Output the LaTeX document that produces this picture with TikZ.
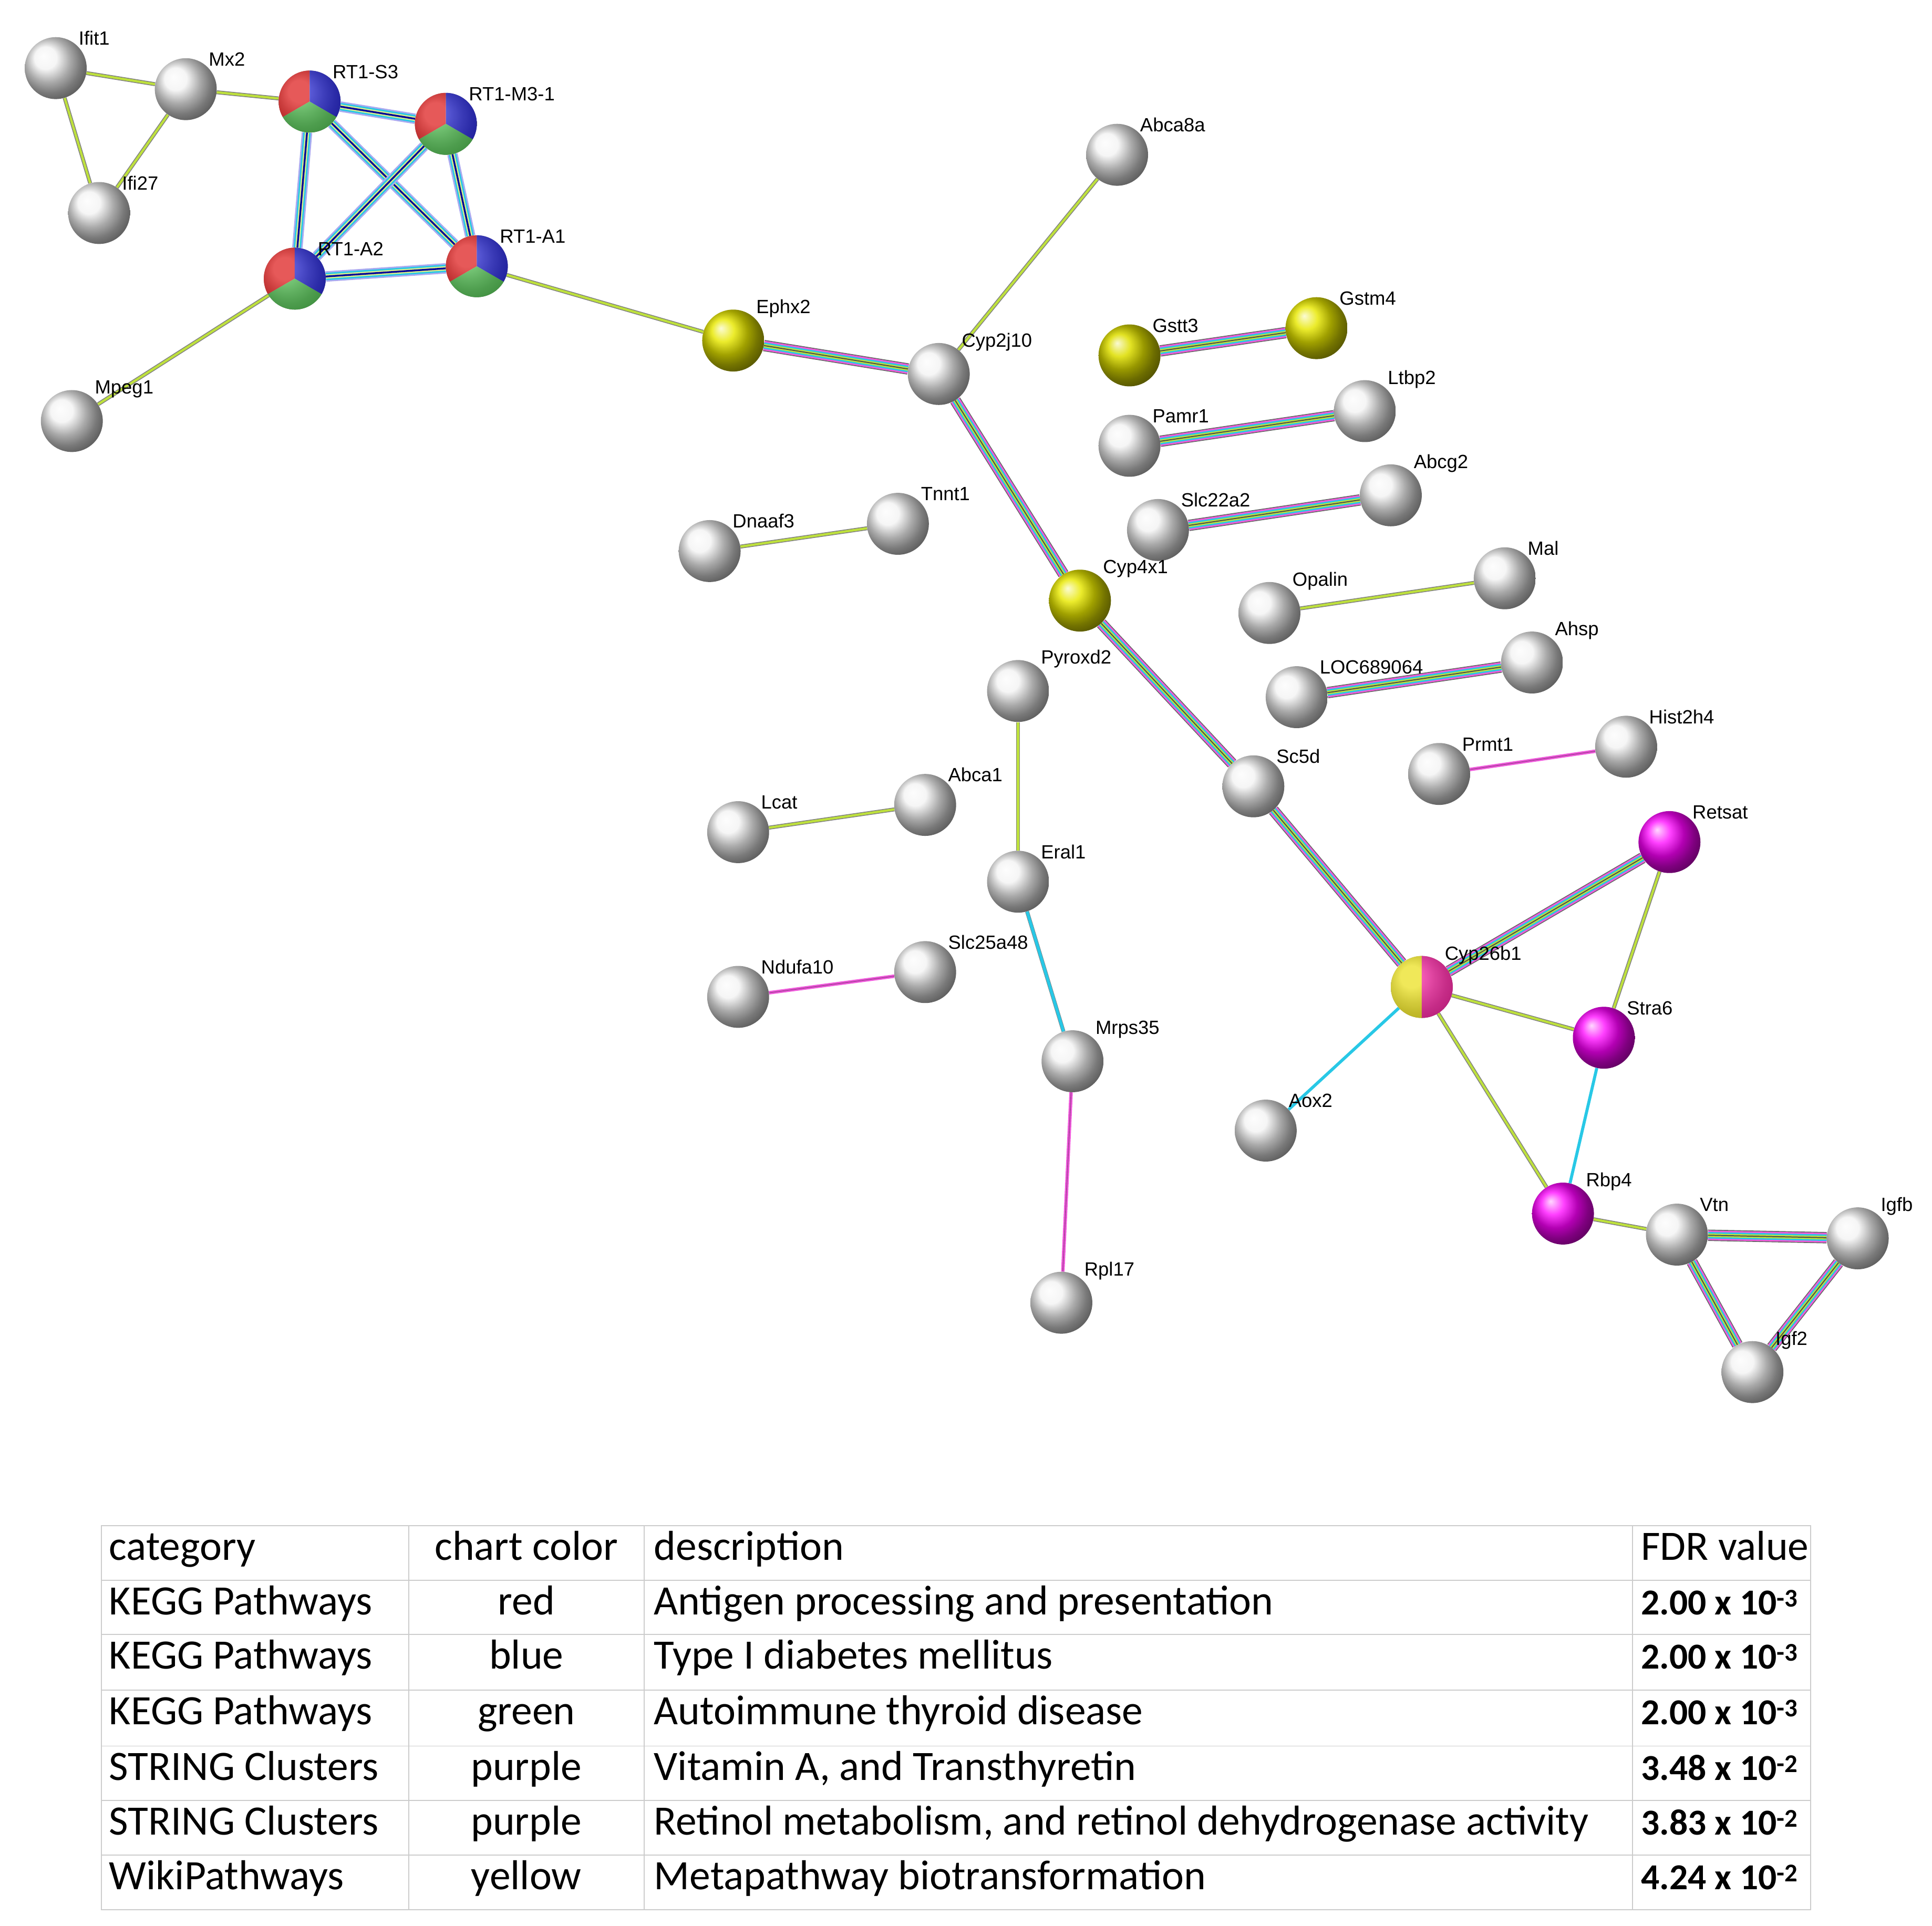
\documentclass[tikz,border=0pt]{standalone}
\usepackage{fontspec}
\setmainfont{Liberation Sans}
\newfontfamily\calfont{Carlito}
\usetikzlibrary{backgrounds}
\definecolor{ygc}{RGB}{190,225,60}
\definecolor{pk}{RGB}{240,90,220}
\definecolor{cy}{RGB}{40,200,230}
\definecolor{lav}{RGB}{170,170,240}
\tikzset{
 ball/.style={circle,minimum size=2.5cm,inner sep=0pt,shading=ball,ball color=#1,
   label={[anchor=south west,inner sep=1pt,font=\fontsize{22}{24}\selectfont]45:\lbl}},
 tcell/.style={font=\calfont\fontsize{48}{52}\selectfont,anchor=west,inner sep=0pt,text height=0.72em,text depth=0.22em},
}
\newcommand\lbl{}
\newcommand\nd[5]{\renewcommand\lbl{#4}\node[ball=#5] (#1) at (#2,-#3) {};}
\newcommand\eY[2]{\draw[line width=4.5pt,black!50] (#1)--(#2);\draw[line width=2.6pt,ygc] (#1)--(#2);}
\newcommand\eC[3]{\draw[line width=3.5pt,#3] (#1)--(#2);}
\newcommand\eP[2]{\draw[line width=4pt,pk] (#1)--(#2);\draw[line width=1pt,pk!70!black] (#1)--(#2);}
\newcommand\eM[2]{\draw[line width=13pt,black!60](#1)--(#2);\draw[line width=11pt,pk](#1)--(#2);\draw[line width=7.5pt,cy](#1)--(#2);\draw[line width=4pt,ygc](#1)--(#2);\draw[line width=1.2pt,black!70](#1)--(#2);}
\newcommand\eB[2]{\draw[line width=12pt,lav](#1)--(#2);\draw[line width=8.5pt,cy](#1)--(#2);\draw[line width=5pt,ygc!60](#1)--(#2);\draw[line width=2pt,blue!60!black](#1)--(#2);}
\newcommand\pie[1]{%
 \fill[red!85!black] (#1.center) -- ++(90:1.25cm) arc[start angle=90,end angle=210,radius=1.25cm] -- cycle;
 \fill[blue!75!black] (#1.center) -- ++(-30:1.25cm) arc[start angle=-30,end angle=90,radius=1.25cm] -- cycle;
 \fill[green!60!black!80] (#1.center) -- ++(210:1.25cm) arc[start angle=210,end angle=330,radius=1.25cm] -- cycle;
 \shade[ball color=white,opacity=0.35] (#1.center) circle[radius=1.25cm];}
\begin{document}
\begin{tikzpicture}[x=0.05cm,y=0.05cm]
\useasboundingbox (0,0) rectangle (1560,-1555);
\def\g{white!90!gray}
\nd{ifit1}{45}{55}{Ifit1}{\g}
\nd{mx2}{150}{72}{Mx2}{\g}
\nd{ifi27}{80}{172}{Ifi27}{\g}
\nd{s3}{250}{82}{RT1-S3}{\g}
\nd{m31}{360}{100}{RT1-M3-1}{\g}
\nd{a2}{238}{225}{RT1-A2}{\g}
\nd{a1}{385}{215}{RT1-A1}{\g}
\nd{mpeg1}{58}{340}{Mpeg1}{\g}
\nd{ephx2}{592}{275}{Ephx2}{yellow!80!olive}
\nd{cyp2j10}{758}{302}{Cyp2j10}{\g}
\nd{abca8a}{902}{125}{Abca8a}{\g}
\nd{gstt3}{912}{287}{Gstt3}{yellow!70!olive}
\nd{gstm4}{1063}{265}{Gstm4}{yellow!80!olive}
\nd{pamr1}{912}{360}{Pamr1}{\g}
\nd{ltbp2}{1102}{332}{Ltbp2}{\g}
\nd{slc22a2}{935}{428}{Slc22a2}{\g}
\nd{abcg2}{1123}{400}{Abcg2}{\g}
\nd{dnaaf3}{573}{445}{Dnaaf3}{\g}
\nd{tnnt1}{725}{423}{Tnnt1}{\g}
\nd{cyp4x1}{872}{485}{Cyp4x1}{yellow!80!olive}
\nd{opalin}{1025}{495}{Opalin}{\g}
\nd{mal}{1215}{467}{Mal}{\g}
\nd{pyroxd2}{822}{558}{Pyroxd2}{\g}
\nd{ahsp}{1237}{535}{Ahsp}{\g}
\nd{loc}{1047}{563}{LOC689064}{\g}
\nd{hist}{1313}{603}{Hist2h4}{\g}
\nd{prmt1}{1162}{625}{Prmt1}{\g}
\nd{sc5d}{1012}{635}{Sc5d}{\g}
\nd{lcat}{596}{672}{Lcat}{\g}
\nd{abca1}{747}{650}{Abca1}{\g}
\nd{retsat}{1348}{680}{Retsat}{magenta}
\nd{eral1}{822}{712}{Eral1}{\g}
\nd{slc25}{747}{785}{Slc25a48}{\g}
\nd{ndufa10}{596}{805}{Ndufa10}{\g}
\nd{cyp26b1}{1148}{797}{Cyp26b1}{\g}
\nd{stra6}{1295}{838}{Stra6}{magenta}
\nd{mrps35}{866}{857}{Mrps35}{\g}
\nd{aox2}{1022}{913}{Aox2}{\g}
\nd{rbp4}{1262}{980}{Rbp4}{magenta}
\nd{vtn}{1354}{997}{Vtn}{\g}
\nd{igfbp}{1500}{1000}{Igfb}{\g}
\nd{igf2}{1415}{1108}{Igf2}{\g}
\nd{rpl17}{857}{1052}{Rpl17}{\g}
\pie{s3}\pie{m31}\pie{a2}\pie{a1}
\fill[yellow!80!olive] (cyp26b1.center) -- ++(90:1.25cm) arc[start angle=90,end angle=270,radius=1.25cm] -- cycle;
\fill[magenta] (cyp26b1.center) -- ++(-90:1.25cm) arc[start angle=-90,end angle=90,radius=1.25cm] -- cycle;
\shade[ball color=white,opacity=0.35] (cyp26b1.center) circle[radius=1.25cm];
\begin{pgfonlayer}{background}
\eY{ifit1}{mx2}\eY{ifit1}{ifi27}\eY{mx2}{ifi27}\eY{mx2}{s3}
\eB{s3}{m31}\eB{s3}{a2}\eB{s3}{a1}\eB{m31}{a1}\eB{m31}{a2}\eB{a2}{a1}
\eY{a2}{mpeg1}\eY{a1}{ephx2}
\eM{ephx2}{cyp2j10}\eY{cyp2j10}{abca8a}\eB{cyp2j10}{cyp4x1}\eM{cyp2j10}{cyp4x1}
\eM{gstt3}{gstm4}\eM{pamr1}{ltbp2}\eM{slc22a2}{abcg2}
\eY{dnaaf3}{tnnt1}\eY{opalin}{mal}\eM{loc}{ahsp}\eP{prmt1}{hist}
\eM{cyp4x1}{sc5d}\eM{sc5d}{cyp26b1}
\eM{cyp26b1}{retsat}\eY{cyp26b1}{stra6}\eY{retsat}{stra6}\eY{cyp26b1}{rbp4}
\eC{cyp26b1}{aox2}{cy}\eC{stra6}{rbp4}{cy}\eY{rbp4}{vtn}
\eM{vtn}{igfbp}\eM{vtn}{igf2}\eM{igf2}{igfbp}
\eY{pyroxd2}{eral1}\eY{lcat}{abca1}
\draw[line width=4.5pt,black!50](eral1)--(mrps35);\eC{eral1}{mrps35}{cy}
\eP{ndufa10}{slc25}\eP{mrps35}{rpl17}
\end{pgfonlayer}
% table
\draw[gray!40,line width=1.2pt] (82,-1232) rectangle (1462,-1542);
\foreach \y in {1276,1320,1365,1410,1454,1498} \draw[gray!40,line width=1.2pt] (82,-\y)--(1462,-\y);
\foreach \x in {330,520,1318} \draw[gray!40,line width=1.2pt] (\x,-1232)--(\x,-1542);
\def\row#1#2#3#4#5{\node[tcell] (c1#1) at (88,-#1) {#2};\node[tcell,anchor=center] (c2#1) at (425,-#1) {#3};\node[tcell] (c3#1) at (528,-#1) {#4};\node[tcell] (c4#1) at (1325,-#1) {#5};}
\row{1258}{category}{chart color}{description}{FDR value}
\row{1302}{KEGG Pathways}{red}{Antigen processing and presentation}{\fontsize{42}{44}\selectfont\textbf{2.00 x 10\textsuperscript{-3}}}
\row{1346}{KEGG Pathways}{blue}{Type I diabetes mellitus}{\fontsize{42}{44}\selectfont\textbf{2.00 x 10\textsuperscript{-3}}}
\row{1391}{KEGG Pathways}{green}{Autoimmune thyroid disease}{\fontsize{42}{44}\selectfont\textbf{2.00 x 10\textsuperscript{-3}}}
\row{1436}{STRING Clusters}{purple}{Vitamin A, and Transthyretin}{\fontsize{42}{44}\selectfont\textbf{3.48 x 10\textsuperscript{-2}}}
\row{1480}{STRING Clusters}{purple}{Retinol metabolism, and retinol dehydrogenase activity}{\fontsize{42}{44}\selectfont\textbf{3.83 x 10\textsuperscript{-2}}}
\row{1524}{WikiPathways}{yellow}{Metapathway biotransformation}{\fontsize{42}{44}\selectfont\textbf{4.24 x 10\textsuperscript{-2}}}
\end{tikzpicture}
\end{document}
